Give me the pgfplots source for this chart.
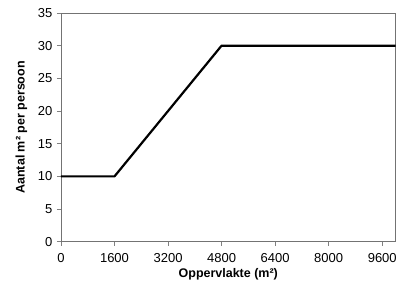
\documentclass[border=0pt]{standalone}
\usepackage{pgfplots}
\pgfplotsset{compat=1.18}
\usepackage{fontspec}
\setmainfont{Liberation Sans}
\begin{document}
\begin{tikzpicture}[x=1pt,y=1pt]
\begin{axis}[
  name=ax,
  at={(61pt,52pt)}, anchor=south west,
  scale only axis,
  width=335pt, height=229pt,
  xmin=0, xmax=10000, ymin=0, ymax=35,
  xtick={0,1600,3200,4800,6400,8000,9600},
  ytick={0,5,10,15,20,25,30,35},
  scaled x ticks=false,
  xticklabel style={/pgf/number format/1000 sep={}},
  /pgf/number format/assume math mode=true,
  tick align=outside,
  tick style={color=gray, line width=0.6pt},
  major tick length=4pt,
  axis line style={color=gray!80, line width=0.8pt},
  x axis line style={color=gray!90!black},
  y axis line style={color=gray!90!black},
  xtick pos=bottom, ytick pos=left,
  ticklabel style={font=\fontsize{13}{15}\selectfont, color=black},
  xticklabel style={yshift=-4pt},
  yticklabel style={xshift=-1pt},
  xlabel={\textbf{Oppervlakte (m²)}},
  ylabel={\textbf{Aantal m² per persoon}},
  label style={font=\fontsize{12.5}{14}\selectfont},
  xlabel style={yshift=1pt},
  ylabel style={yshift=4pt},
  clip=false,
]
\addplot[black, line width=2.2pt, line join=round] coordinates {(0,10) (1600,10) (4800,30) (10000,30)};
\end{axis}
\path (0,0) rectangle (400,294);
\end{tikzpicture}
\end{document}
